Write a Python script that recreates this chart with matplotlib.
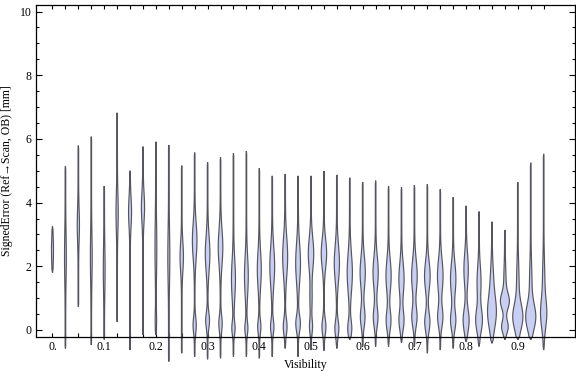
import numpy as np
import matplotlib
matplotlib.use("Agg")
import matplotlib.pyplot as plt

# ---- data ----
visibility = [0.0, 0.025, 0.05, 0.075, 0.1, 0.125, 0.15, 0.175, 0.2, 0.225,
              0.25, 0.275, 0.3, 0.325, 0.35, 0.375, 0.4, 0.425, 0.45, 0.475,
              0.5, 0.525, 0.55, 0.575, 0.6, 0.625, 0.65, 0.675, 0.7, 0.725,
              0.75, 0.775, 0.8, 0.825, 0.85, 0.875, 0.9, 0.925, 0.95]

err_min = [1.80, -0.58, 0.73, -0.47, -0.30, 0.26, -0.63, -0.16, -0.16, -0.99,
           -0.73, -0.84, -0.92, -0.89, -0.84, -0.84, -0.89, -0.84, -0.58, -0.84,
           -0.63, -0.65, -0.58, -0.31, -0.52, -0.52, -0.52, -0.41, -0.52, -0.73,
           -0.63, -0.58, -0.37, -0.52, -0.42, -0.31, -0.31, -0.31, -0.63]

err_max = [3.25, 5.15, 5.79, 6.07, 4.52, 6.82, 5.00, 5.76, 5.91, 5.81,
           5.16, 5.57, 5.27, 5.42, 5.55, 5.62, 5.08, 4.84, 4.90, 4.84,
           4.84, 4.99, 4.87, 4.78, 4.64, 4.69, 4.52, 4.48, 4.55, 4.58,
           4.42, 4.17, 3.90, 3.72, 3.40, 3.14, 4.64, 5.25, 5.53]

# density modes per violin: (centre [mm], spread [mm], half-width [px])
modes = [
    [(2.5, 0.40, 0.7)],
    [(2.3, 0.70, 0.6)],
    [(3.3, 0.50, 0.8)],
    [(2.3, 0.70, 0.6)],
    [(1.9, 0.70, 0.6)],
    [(3.7, 0.60, 0.8)],
    [(3.7, 0.45, 1.2)],
    [(3.85, 0.45, 1.3)],
    [(2.6, 0.80, 0.6), (0.3, 0.30, 0.4)],
    [(2.3, 0.80, 0.7)],
    [(2.3, 0.45, 1.4)],
    [(2.8, 0.55, 2.0), (0.15, 0.25, 1.3)],
    [(2.4, 0.55, 2.0), (0.3, 0.25, 1.6)],
    [(2.6, 0.55, 2.0), (0.2, 0.25, 1.4)],
    [(1.6, 0.60, 1.7), (0.05, 0.20, 1.3)],
    [(1.7, 0.60, 1.6), (0.05, 0.20, 1.2)],
    [(1.9, 0.55, 1.7), (0.1, 0.22, 1.3)],
    [(2.0, 0.60, 2.1), (0.1, 0.22, 1.4)],
    [(2.3, 0.60, 2.2), (0.1, 0.25, 1.6)],
    [(2.1, 0.60, 2.1), (0.2, 0.25, 2.0)],
    [(2.4, 0.50, 2.4), (1.0, 0.40, 0.8), (0.1, 0.22, 1.2)],
    [(2.4, 0.45, 2.4), (0.1, 0.25, 1.7)],
    [(2.1, 0.55, 2.3), (0.05, 0.25, 1.7)],
    [(1.8, 0.60, 2.3), (0.05, 0.25, 1.7)],
    [(1.8, 0.50, 2.3), (0.4, 0.30, 2.0)],
    [(1.8, 0.50, 2.3), (0.4, 0.30, 2.0)],
    [(1.7, 0.50, 2.3), (0.3, 0.30, 2.1)],
    [(1.6, 0.50, 2.3), (0.3, 0.30, 2.2)],
    [(1.7, 0.50, 2.5), (0.4, 0.30, 2.3)],
    [(1.7, 0.45, 2.5), (0.25, 0.30, 2.3)],
    [(1.7, 0.50, 2.5), (0.4, 0.30, 2.3)],
    [(1.6, 0.50, 2.4), (0.3, 0.30, 2.3)],
    [(1.9, 0.50, 1.9), (0.3, 0.35, 2.7)],
    [(1.5, 0.50, 1.7), (0.3, 0.35, 3.0)],
    [(0.55, 0.50, 4.0), (1.6, 0.50, 1.1)],
    [(0.9, 0.25, 3.8), (0.1, 0.20, 3.0), (1.5, 0.50, 0.8)],
    [(0.4, 0.40, 4.6), (1.5, 0.60, 0.9)],
    [(0.4, 0.40, 4.6), (1.5, 0.60, 0.9)],
    [(0.5, 0.45, 2.7), (1.6, 0.60, 0.8)],
]

x_labels = ["0.", "0.1", "0.2", "0.3", "0.4", "0.5", "0.6", "0.7", "0.8", "0.9"]
y_major = [0, 2, 4, 6, 8, 10]

# ---- figure ----
W, H = 576, 377
fig = plt.figure(figsize=(W / 100, H / 100), dpi=100)
ax_l, ax_r, ax_t, ax_b = 36, 575, 4.5, 337
ax = fig.add_axes([ax_l / W, (H - ax_b) / H, (ax_r - ax_l) / W, (ax_b - ax_t) / H])
xlim = (-0.0319, 1.0106)
ax.set_xlim(*xlim)
ax.set_ylim(-0.22, 10.22)
px_per_unit = (ax_r - ax_l) / (xlim[1] - xlim[0])

fill_c = "#c9cef3"
edge_c = "#55555f"
tail = 0.3
for x, lo, hi, ms in zip(visibility, err_min, err_max, modes):
    y = np.linspace(lo, hi, 400)
    hw = np.full_like(y, tail)
    for c, s, a in ms:
        hw += a * np.exp(-0.5 * ((y - c) / s) ** 2)
    taper = np.clip(np.minimum(y - lo, hi - y) / 0.1, 0, 1)
    hw = hw * taper / px_per_unit
    xs = np.concatenate([x - hw, (x + hw)[::-1]])
    ys = np.concatenate([y, y[::-1]])
    ax.fill(xs, ys, facecolor=fill_c, edgecolor=edge_c, linewidth=0.85,
            clip_on=False, zorder=2)

fam = ["Liberation Serif", "DejaVu Serif"]
# x ticks
ax.set_xticks(visibility)
lab = [""] * len(visibility)
for k, t in enumerate(x_labels):
    lab[4 * k] = t
ax.set_xticklabels(lab, family=fam, fontsize=8.5)
# y ticks
ax.set_yticks(y_major)
ax.set_yticklabels([str(v) for v in y_major], family=fam, fontsize=8.5)
ax.set_yticks([v * 0.5 for v in range(21) if v % 4 != 0], minor=True)
ax.tick_params(axis="x", which="both", direction="in", top=True, bottom=True,
               length=3, width=0.8, pad=3)
ax.tick_params(axis="y", which="major", direction="in", left=True, right=True,
               length=4.5, width=0.8, pad=3)
ax.tick_params(axis="y", which="minor", direction="in", left=True, right=True,
               length=2.5, width=0.8)
for sp in ax.spines.values():
    sp.set_linewidth(0.9)

ax.set_xlabel("Visibility", family=fam, fontsize=8.5, labelpad=4)
ax.set_ylabel("SignedError (Ref\u2192Scan, OB) [mm]", family=fam, fontsize=8.5,
              labelpad=5)

fig.savefig("out.png", dpi=100)
